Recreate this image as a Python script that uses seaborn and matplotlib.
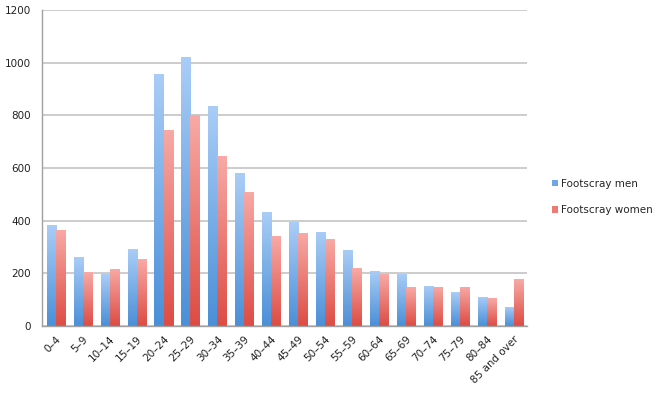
import numpy as np
import pandas as pd
import matplotlib
matplotlib.use("Agg")
import matplotlib.pyplot as plt
import seaborn as sns
from matplotlib.colors import LinearSegmentedColormap
from matplotlib.patches import Patch

categories = ["0–4", "5–9", "10–14", "15–19", "20–24", "25–29", "30–34", "35–39",
              "40–44", "45–49", "50–54", "55–59", "60–64", "65–69", "70–74",
              "75–79", "80–84", "85 and over"]
men = [383, 260, 197, 290, 958, 1020, 835, 580, 432, 393, 358, 289, 210, 198, 152, 127, 111, 73]
women = [365, 205, 217, 252, 745, 800, 645, 510, 340, 352, 329, 219, 196, 147, 149, 149, 106, 178]
series_names = ["Footscray men", "Footscray women"]

df = pd.DataFrame({
    "age": categories * 2,
    "value": men + women,
    "series": [series_names[0]] * len(categories) + [series_names[1]] * len(categories),
})

sns.set_style("white")
plt.rcParams['font.family'] = ['DejaVu Sans']

fig = plt.figure(figsize=(6.6, 3.94), dpi=100)
ax = fig.add_axes([0.064, 0.173, 0.735, 0.802])

palette = {series_names[0]: "#7fb0ea", series_names[1]: "#f08a85"}
sns.barplot(data=df, x="age", y="value", hue="series", order=categories,
            hue_order=series_names, palette=palette, width=0.67, ax=ax,
            legend=False, saturation=1)

# gradient fills
grads = {
    series_names[0]: LinearSegmentedColormap.from_list("m", ["#4a8fd8", "#aacdf7"]),
    series_names[1]: LinearSegmentedColormap.from_list("w", ["#dc4c44", "#f8aaa6"]),
}
n = len(categories)
grad = np.linspace(0, 1, 256).reshape(-1, 1)
for i, p in enumerate(list(ax.patches)[:2 * n]):
    s = series_names[i // n]
    x0, y0 = p.get_x(), p.get_y()
    w, h = p.get_width(), p.get_height()
    im = ax.imshow(grad, cmap=grads[s], origin="lower", aspect="auto",
                   extent=[x0, x0 + w, y0, y0 + h], zorder=p.get_zorder(),
                   interpolation="bilinear")
    im.set_clip_path(p)
    p.set_facecolor("none")
    p.set_edgecolor("none")

ax.set_xlim(-0.5, n - 0.5)
ax.set_ylim(0, 1200)
ax.set_yticks(range(0, 1201, 200))
ax.yaxis.grid(True, color="#c4c4c4", linewidth=1.2)
ax.set_axisbelow(True)
ax.set_xlabel("")
ax.set_ylabel("")

for side in ["top", "right"]:
    ax.spines[side].set_visible(False)
for side in ["left", "bottom"]:
    ax.spines[side].set_color("#a0a0a0")
    ax.spines[side].set_linewidth(1.0)

ax.set_xticks(range(n))
ax.set_xticklabels(categories, rotation=45, ha="right", rotation_mode="anchor", fontsize=7.5, color="#222222")
ax.tick_params(axis="x", which="major", length=0, pad=6)
ax.set_xticks(np.arange(-0.5, n, 1), minor=True)
ax.tick_params(axis="x", which="minor", length=4, color="#a0a0a0", direction="out")
ax.tick_params(axis="y", length=0, labelsize=7.5, labelcolor="#222222", pad=8)

# legend
handles = [Patch(facecolor="#6fa6e6", edgecolor="none"), Patch(facecolor="#ee7a74", edgecolor="none")]
fig.legend(handles, series_names, loc="upper left", bbox_to_anchor=(0.822, 0.57),
           frameon=False, fontsize=7.5, handlelength=0.6, handleheight=0.6,
           handletextpad=0.3, labelspacing=1.6)

fig.savefig("out.png", dpi=100)
